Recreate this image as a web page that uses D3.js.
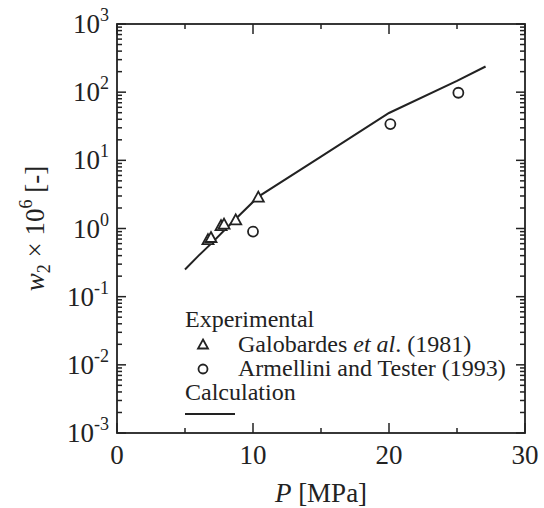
<!DOCTYPE html>
<html>
<head>
<meta charset="utf-8">
<script src="https://cdn.jsdelivr.net/npm/d3@7"></script>
</head>
<body style="margin:0">
<svg id="chart" width="544" height="508"></svg>
<script>
// ---- Data ----
const galobardesP = [6.69, 6.91, 7.65, 7.87, 8.73, 10.39];
const galobardesW = [0.70, 0.75, 1.12, 1.18, 1.36, 2.93];
const armelliniP = [10.0, 20.1, 25.1];
const armelliniW = [0.90, 34, 98];
const calcP = [5, 6, 7, 8, 9, 10.4, 15, 20, 25, 27.1];
const calcW = [0.25, 0.40, 0.62, 0.99, 1.56, 2.94, 11.3, 49.5, 146, 238];
const xTicks = [0, 10, 20, 30];
const xMinorTicks = [5, 15, 25];
const yExponents = [-3, -2, -1, 0, 1, 2, 3];
const legendLabels = ["Experimental", "Calculation"];

// ---- Layout ----
const svg = d3.select("#chart").style("display", "block");
const L = 117, R = 525, T = 24, B = 433;
const ink = "#222";

const x = d3.scaleLinear().domain([0, 30]).range([L, R]);
const y = d3.scaleLog().domain([1e-3, 1e3]).range([B, T]);

const majorY = yExponents.map(e => Math.pow(10, e));
const minorY = [];
for (let e = -3; e < 3; e++) for (let m = 2; m <= 9; m++) minorY.push(m * Math.pow(10, e));

// plain tick drawing via scales
function ticksX(yPos, vals, len, dir) {
  svg.append("g").selectAll("line").data(vals).join("line")
    .attr("x1", d => x(d)).attr("x2", d => x(d))
    .attr("y1", yPos).attr("y2", yPos + dir * len)
    .attr("stroke", ink).attr("stroke-width", 1.5);
}
function ticksY(xPos, vals, len, dir) {
  svg.append("g").selectAll("line").data(vals).join("line")
    .attr("y1", d => y(d)).attr("y2", d => y(d))
    .attr("x1", xPos).attr("x2", xPos + dir * len)
    .attr("stroke", ink).attr("stroke-width", 1.5);
}
ticksX(B, xTicks, 10, -1); ticksX(B, xMinorTicks, 5, -1);
ticksX(T, xTicks, 10, 1);  ticksX(T, xMinorTicks, 5, 1);
ticksY(L, majorY, 9, 1);   ticksY(L, minorY, 5, 1);
ticksY(R, majorY, 9, -1);  ticksY(R, minorY, 5, -1);

// frame
svg.append("rect").attr("x", L).attr("y", T).attr("width", R - L).attr("height", B - T)
  .attr("fill", "none").attr("stroke", ink).attr("stroke-width", 1.8);

function addText(parent, fam) {
  return parent.append("text").style("font-family", fam).attr("fill", ink);
}

// x tick labels
xTicks.forEach(d => {
  addText(svg, "Times New Roman").attr("x", x(d)).attr("y", B + 31)
    .attr("text-anchor", "middle").attr("font-size", 27).text(d);
});

// y tick labels with superscripts
yExponents.forEach(d => {
  const t = addText(svg, "Tinos").attr("x", 109).attr("y", y(Math.pow(10, d)) + 9)
    .attr("text-anchor", "end").attr("font-size", 27);
  t.append("tspan").text("10");
  t.append("tspan").attr("font-size", 18).attr("dy", -12).text(d < 0 ? "-" + Math.abs(d) : d);
});

// axis titles
const xt = addText(svg, "Liberation Serif").attr("x", (L + R) / 2).attr("y", 502)
  .attr("text-anchor", "middle").attr("font-size", 27);
xt.append("tspan").attr("font-style", "italic").text("P");
xt.append("tspan").text(" [MPa]");

const yt = addText(svg, "serif")
  .attr("transform", `translate(44,${(T + B) / 2}) rotate(-90)`)
  .attr("text-anchor", "middle").attr("font-size", 27);
yt.append("tspan").attr("font-style", "italic").text("w");
yt.append("tspan").attr("font-size", 18).attr("dy", 6).text("2");
yt.append("tspan").attr("dy", -6).text(" × 10");
yt.append("tspan").attr("font-size", 18).attr("dy", -12).text("6");
yt.append("tspan").attr("dy", 12).text(" [-]");

// calculation line
const line = d3.line().x(d => x(d[0])).y(d => y(d[1]));
svg.append("path").datum(calcP.map((p, i) => [p, calcW[i]]))
  .attr("d", line).attr("fill", "none").attr("stroke", ink).attr("stroke-width", 2);

function triPath(cx, cy, w, h) {
  return `M${cx},${cy - h / 2}L${cx + w / 2},${cy + h / 2}L${cx - w / 2},${cy + h / 2}Z`;
}

svg.append("g").selectAll("path").data(galobardesP.map((p, i) => [p, galobardesW[i]])).join("path")
  .attr("d", d => triPath(x(d[0]), y(d[1]), 11, 10))
  .attr("fill", "#fff").attr("stroke", ink).attr("stroke-width", 1.8);

svg.append("g").selectAll("circle").data(armelliniP.map((p, i) => [p, armelliniW[i]])).join("circle")
  .attr("cx", d => x(d[0])).attr("cy", d => y(d[1])).attr("r", 5)
  .attr("fill", "#fff").attr("stroke", ink).attr("stroke-width", 1.8);

// legend
addText(svg, "Liberation Serif").attr("x", 185).attr("y", 327).attr("font-size", 24).text(legendLabels[0]);
svg.append("path").attr("d", triPath(203, 344, 10, 9))
  .attr("fill", "#fff").attr("stroke", ink).attr("stroke-width", 1.8);
const g1 = addText(svg, "Liberation Serif").attr("x", 238).attr("y", 352).attr("font-size", 24);
g1.append("tspan").text("Galobardes ");
g1.append("tspan").attr("font-style", "italic").text("et al");
g1.append("tspan").text(". (1981)");
svg.append("circle").attr("cx", 203).attr("cy", 369).attr("r", 4.5)
  .attr("fill", "#fff").attr("stroke", ink).attr("stroke-width", 1.8);
addText(svg, "Liberation Serif").attr("x", 238).attr("y", 376).attr("font-size", 24).text("Armellini and Tester (1993)");
addText(svg, "Liberation Serif").attr("x", 185).attr("y", 400).attr("font-size", 24).text(legendLabels[1]);
svg.append("line").attr("x1", 185).attr("x2", 235).attr("y1", 414).attr("y2", 414)
  .attr("stroke", ink).attr("stroke-width", 2);
</script>
</body>
</html>
